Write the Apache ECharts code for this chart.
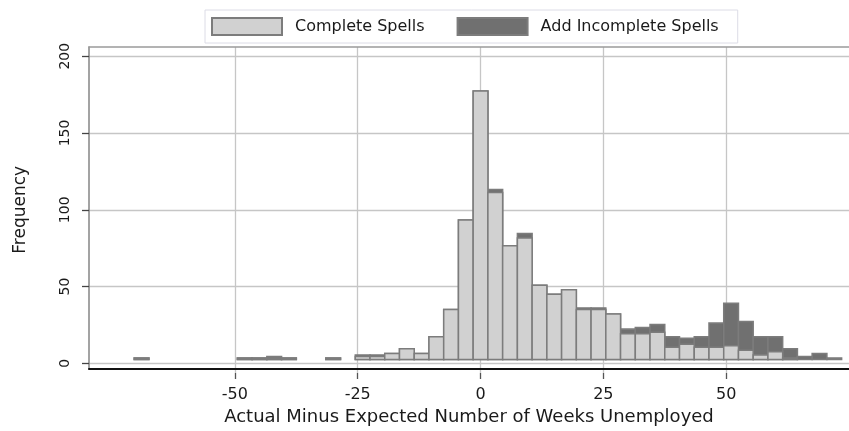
<!DOCTYPE html>
<html>
<head>
<meta charset="utf-8">
<title>Actual minus expected weeks unemployed</title>
<script src="https://cdn.jsdelivr.net/npm/echarts@6/dist/echarts.min.js"></script>
<style>
  html, body { margin: 0; padding: 0; background: #fff; }
  #chart { width: 849px; height: 431px; }
</style>
</head>
<body>
<div id="chart"></div>
<script>
// bin centres (weeks), bins are 3 weeks wide
const binCenters = [-69, -48, -45, -42, -39, -30, -24, -21, -18, -15, -12, -9, -6, -3,
  0, 3, 6, 9, 12, 15, 18, 21, 24, 27, 30, 33, 36, 39, 42, 45, 48, 51, 54, 57, 60, 63, 66, 69, 72]

// complete spells only
const completeCounts = [1, 1, 1, 1, 1, 1, 2, 2, 4, 7, 4, 15, 33, 92,
  177, 110, 75, 80, 49, 43, 46, 33, 33, 30, 17, 17, 18, 8, 10, 8, 8, 9, 6, 3, 5, 1, 0, 0, 0]

// complete + incomplete spells
const totalCounts = [1, 1, 1, 2, 1, 1, 3, 3, 4, 7, 4, 15, 33, 92,
  177, 112, 75, 83, 49, 43, 46, 34, 34, 30, 20, 21, 23, 15, 14, 15, 24, 37, 25, 15, 15, 7, 2, 4, 1]

const xTicks = [-50, -25, 0, 25, 50]
const yTicks = [0, 50, 100, 150, 200]

const binWidth = 3
const FONT = 'DejaVu Sans'

// plot region (px) and the value range it covers
const plot = { left: 89, top: 47, right: 0, bottom: 58 }
const plotW = 849 - plot.left - plot.right
const plotH = 431 - plot.top - plot.bottom
const xMin = -79.7, xMax = 75
const yMin = -6.3, yMax = 206

// tick grids sit exactly where the tick range falls inside the plot
const xTickLo = xTicks[0], xTickHi = xTicks[xTicks.length - 1]
const yTickLo = yTicks[0], yTickHi = yTicks[yTicks.length - 1]
const xGridLeft = plot.left + (xTickLo - xMin) / (xMax - xMin) * plotW
const xGridWidth = (xTickHi - xTickLo) / (xMax - xMin) * plotW
const yGridTop = plot.top + (yMax - yTickHi) / (yMax - yMin) * plotH
const yGridBottom = plot.bottom + (yTickLo - yMin) / (yMax - yMin) * plotH

const colors = {
  complete: '#d1d1d1',
  incomplete: '#707070',
  edge: '#7c7c7c',
  grid: '#c6c6c6',
  text: '#1a1a1a'
}

function histRenderer(fill) {
  return (params, api) => {
    const x = api.value(0)
    const v = api.value(1)
    if (!v) return
    const p0 = api.coord([x - binWidth / 2, v])
    const p1 = api.coord([x + binWidth / 2, 0])
    return {
      type: 'rect',
      shape: { x: p0[0], y: p0[1], width: p1[0] - p0[0], height: p1[1] - p0[1] },
      style: { fill: fill, stroke: colors.edge, lineWidth: 1.5 }
    }
  }
}

const hidden = { show: false }

const option = {
  animation: false,
  backgroundColor: '#fff',
  textStyle: { fontFamily: FONT },
  legend: {
    left: 205,
    top: 10,
    icon: 'rect',
    itemWidth: 70,
    itemHeight: 17,
    itemGap: 32,
    padding: [7, 19, 7, 6],
    backgroundColor: '#fff',
    borderColor: '#dcdce6',
    borderWidth: 1,
    selectedMode: false,
    textStyle: { fontFamily: FONT, fontSize: 16, color: colors.text, padding: [0, 0, 0, 8] },
    data: ['Complete Spells', 'Add Incomplete Spells']
  },
  grid: [
    { left: plot.left, top: plot.top, right: plot.right, bottom: plot.bottom },
    { left: xGridLeft, width: xGridWidth, top: plot.top, bottom: plot.bottom },
    { left: plot.left, right: plot.right, top: yGridTop, bottom: yGridBottom }
  ],
  xAxis: [
    {
      // data axis + black bottom line + title
      gridIndex: 0, type: 'value', min: xMin, max: xMax, position: 'bottom',
      axisLine: { onZero: false, lineStyle: { color: '#111', width: 2 } },
      axisTick: hidden, axisLabel: hidden, splitLine: hidden,
      name: 'Actual Minus Expected Number of Weeks Unemployed',
      nameLocation: 'middle', nameGap: 39,
      nameTextStyle: { fontFamily: FONT, fontSize: 18, color: colors.text }
    },
    {
      // top frame line
      gridIndex: 0, type: 'value', min: xMin, max: xMax, position: 'top',
      axisLine: { onZero: false, lineStyle: { color: '#9a9a9a', width: 1.5 } },
      axisTick: hidden, axisLabel: hidden, splitLine: hidden
    },
    {
      // ticks, labels, vertical grid lines
      gridIndex: 1, type: 'value', min: xTickLo, max: xTickHi, interval: 25, position: 'bottom',
      axisLine: { show: false, onZero: false },
      axisTick: { length: 6, lineStyle: { color: '#555', width: 1.3 } },
      axisLabel: { fontFamily: FONT, fontSize: 16, color: colors.text, margin: 14 },
      splitLine: { lineStyle: { color: colors.grid, width: 1.3 } }
    },
    { gridIndex: 2, type: 'value', min: xMin, max: xMax, show: false }
  ],
  yAxis: [
    {
      gridIndex: 0, type: 'value', min: yMin, max: yMax,
      axisLine: { show: true, onZero: false, lineStyle: { color: '#858585', width: 1.5 } },
      axisTick: hidden, axisLabel: hidden, splitLine: hidden
    },
    { gridIndex: 1, type: 'value', min: 0, max: 1, show: false },
    {
      gridIndex: 2, type: 'value', min: yTickLo, max: yTickHi, interval: 50,
      axisLine: { show: false, onZero: false },
      axisTick: { show: true, length: 7, lineStyle: { color: '#444', width: 1.3 } },
      axisLabel: { fontFamily: FONT, fontSize: 14, color: colors.text, rotate: 90, margin: 17 },
      splitLine: { lineStyle: { color: colors.grid, width: 1.3 } },
      name: 'Frequency', nameLocation: 'middle', nameGap: 60, nameRotate: 90,
      nameTextStyle: { fontFamily: FONT, fontSize: 17, color: colors.text }
    }
  ],
  series: [
    {
      name: 'Add Incomplete Spells',
      type: 'custom',
      xAxisIndex: 0, yAxisIndex: 0,
      itemStyle: { color: colors.incomplete, borderColor: colors.edge, borderWidth: 1.5 },
      renderItem: histRenderer(colors.incomplete),
      data: binCenters.map((x, i) => [x, totalCounts[i]]),
      z: 2
    },
    {
      name: 'Complete Spells',
      type: 'custom',
      xAxisIndex: 0, yAxisIndex: 0,
      itemStyle: { color: colors.complete, borderColor: colors.edge, borderWidth: 1.5 },
      renderItem: histRenderer(colors.complete),
      data: binCenters.map((x, i) => [x, completeCounts[i]]),
      z: 3
    }
  ]
}

const chart = echarts.init(document.getElementById('chart'))
chart.setOption(option)
</script>
</body>
</html>
